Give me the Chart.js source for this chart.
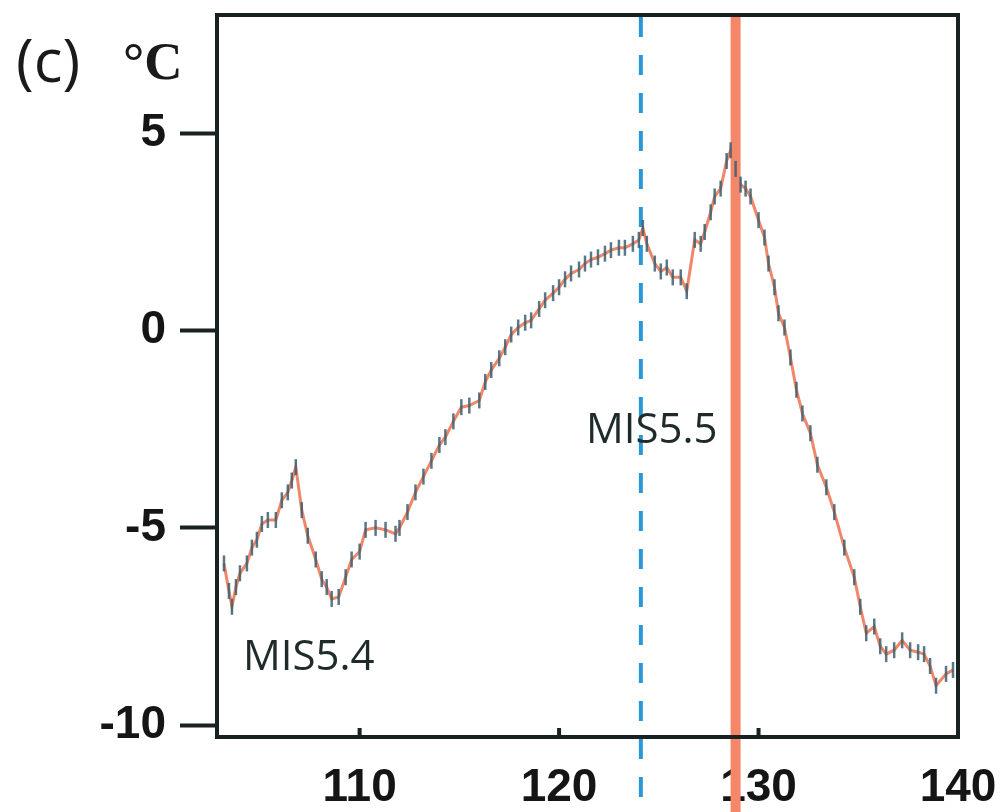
<!DOCTYPE html>
<html>
<head>
<meta charset="utf-8">
<script src="https://cdn.jsdelivr.net/npm/chart.js@4.4.1/dist/chart.umd.min.js"></script>
<style>
  html, body { margin: 0; padding: 0; background: #ffffff; }
  #wrap { width: 1005px; height: 812px; position: relative; }
</style>
</head>
<body>
<div id="wrap"><canvas id="c"></canvas></div>
<script>
// ---- data (age in kyr, temperature anomaly in °C) ----
const ages = [
  103.2, 103.45, 103.6, 103.8, 104.0, 104.35, 104.6, 104.85, 105.1, 105.4,
  105.8, 106.1, 106.4, 106.6, 106.8, 107.1, 107.4, 107.8, 108.1, 108.35,
  108.6, 108.95, 109.3, 109.6, 110.0, 110.3, 110.8, 111.3, 111.8, 112.0,
  112.4, 112.8, 113.2, 113.6, 114.0, 114.3, 114.7, 115.1, 115.5, 116.0,
  116.3, 116.6, 117.0, 117.3, 117.6, 117.95, 118.3, 118.6, 119.0, 119.3,
  119.7, 120.0, 120.3, 120.6, 121.0, 121.3, 121.6, 121.95, 122.3, 122.6,
  123.0, 123.3, 123.7, 124.0, 124.2, 124.4, 124.8, 125.1, 125.4, 125.7,
  126.1, 126.4, 126.8, 127.1, 127.3, 127.6, 127.8, 128.1, 128.4, 128.6,
  128.85, 129.1, 129.35, 129.6, 130.0, 130.3, 130.5, 130.8, 131.0, 131.3,
  131.6, 131.9, 132.2, 132.6, 132.95, 133.4, 133.8, 134.3, 134.8, 135.1,
  135.4, 135.8, 136.1, 136.4, 136.8, 137.2, 137.6, 138.0, 138.3, 138.6,
  138.9, 139.4, 139.75
];
const temps = [
  -5.9, -6.6, -7.0, -6.5, -6.15, -5.9, -5.5, -5.3, -4.9, -4.8,
  -4.8, -4.3, -4.1, -3.8, -3.46, -4.55, -5.2, -5.8, -6.3, -6.5,
  -6.8, -6.75, -6.25, -5.8, -5.6, -5.05, -5.0, -5.05, -5.15, -5.0,
  -4.6, -4.1, -3.7, -3.3, -2.9, -2.7, -2.3, -1.94, -1.9, -1.77,
  -1.3, -1.0, -0.7, -0.42, -0.1, 0.08, 0.2, 0.26, 0.55, 0.77,
  0.95, 1.1, 1.3, 1.45, 1.55, 1.7, 1.8, 1.86, 1.95, 2.04,
  2.1, 2.1, 2.2, 2.3, 2.6, 2.2, 1.7, 1.5, 1.6, 1.35,
  1.35, 1.0, 2.3, 2.2, 2.5, 3.0, 3.4, 3.6, 4.3, 4.57,
  4.1, 3.7, 3.6, 3.4, 2.8, 2.36, 1.7, 1.1, 0.44, 0.08,
  -0.68, -1.5, -2.1, -2.6, -3.4, -3.97, -4.6, -5.5, -6.25, -7.0,
  -7.67, -7.5, -8.0, -8.2, -8.1, -7.85, -8.1, -8.15, -8.2, -8.5,
  -9.0, -8.7, -8.6
];
const xTicks = [110, 120, 130, 140];
const yTicks = [5, 0, -5, -10];
const markerAges = { dashedBlue: 124.1, solidOrange: 128.85 };
const annotationLabels = ["MIS5.4", "MIS5.5"];
const panelLabel = "(c)";
const unitLabel = "°C";

// ---- styles ----
const FRAME = '#172221';
const points = ages.map((a, i) => ({ x: a, y: temps[i] }));

const overlay = {
  id: 'overlay',
  beforeDatasetsDraw(chart) {
    const { ctx, chartArea, scales } = chart;
    const H = chart.height;
    ctx.save();
    const xo = scales.x.getPixelForValue(markerAges.solidOrange);
    ctx.strokeStyle = '#f4866a';
    ctx.lineWidth = 10;
    ctx.beginPath(); ctx.moveTo(xo, chartArea.top); ctx.lineTo(xo, H); ctx.stroke();
    const xb = scales.x.getPixelForValue(markerAges.dashedBlue);
    ctx.strokeStyle = '#2a98d8';
    ctx.lineWidth = 4;
    ctx.setLineDash([20, 18]);
    ctx.beginPath(); ctx.moveTo(xb, chartArea.top + 2); ctx.lineTo(xb, H); ctx.stroke();
    ctx.setLineDash([]);
    ctx.restore();
  },
  afterDatasetsDraw(chart) {
    const { ctx, chartArea, scales } = chart;
    ctx.save();
    ctx.fillStyle = '#1f2a2a';
    ctx.font = '42px "Open Sans"';
    ctx.textBaseline = 'alphabetic';
    ctx.textAlign = 'left';
    ctx.fillText(annotationLabels[0], chartArea.left + 26, 670);
    ctx.fillText(annotationLabels[1], 586, 443);
    ctx.strokeStyle = FRAME;
    ctx.lineWidth = 4;
    ctx.strokeRect(chartArea.left, chartArea.top, chartArea.right - chartArea.left, chartArea.bottom - chartArea.top);
    xTicks.forEach(v => {
      const px = scales.x.getPixelForValue(v);
      if (px < chartArea.right - 5) {
        ctx.beginPath(); ctx.moveTo(px, chartArea.bottom); ctx.lineTo(px, chartArea.bottom - 9); ctx.stroke();
      }
    });
    ctx.fillStyle = '#1a1a1a';
    ctx.font = '60px "Open Sans"';
    ctx.fillText(panelLabel, 16, 82);
    ctx.font = 'bold 53px "Liberation Serif"';
    ctx.fillText(unitLabel, 123, 79);
    ctx.restore();
  }
};

new Chart(document.getElementById('c'), {
  type: 'line',
  data: {
    datasets: [{
      data: points,
      borderColor: '#f0866a',
      borderWidth: 3,
      tension: 0,
      pointStyle: 'line',
      rotation: 90,
      pointRadius: 8,
      pointBorderWidth: 2.5,
      pointBorderColor: 'rgba(60,95,110,0.85)',
      pointBackgroundColor: 'rgba(60,95,110,0.85)'
    }]
  },
  options: {
    responsive: true,
    maintainAspectRatio: false,
    animation: false,
    layout: { padding: { top: 15, right: 47, left: 0, bottom: 0 } },
    plugins: { legend: { display: false }, tooltip: { enabled: false } },
    scales: {
      x: {
        type: 'linear',
        min: 102.85, max: 140,
        afterBuildTicks(s) { s.ticks = xTicks.map(v => ({ value: v })); },
        afterFit(s) { s.height = 75; s.paddingLeft = 0; s.paddingRight = 0; },
        border: { display: false },
        grid: { display: false, drawTicks: false },
        ticks: {
          autoSkip: false, maxRotation: 0, padding: 24,
          color: '#151515',
          font: { family: '"Liberation Sans", Arial', size: 46, weight: 'bold' }
        }
      },
      y: {
        type: 'linear',
        min: -10.3, max: 8,
        afterBuildTicks(s) { s.ticks = yTicks.map(v => ({ value: v })); },
        afterFit(s) { s.width = 217; s.paddingTop = 0; s.paddingBottom = 0; },
        border: { display: false },
        grid: { drawOnChartArea: false, drawTicks: true, tickLength: 37, tickWidth: 4, tickColor: FRAME },
        ticks: {
          autoSkip: false, padding: 14,
          color: '#151515',
          font: { family: '"Liberation Sans", Arial', size: 46, weight: 'bold' }
        }
      }
    }
  },
  plugins: [overlay]
});
</script>
</body>
</html>
